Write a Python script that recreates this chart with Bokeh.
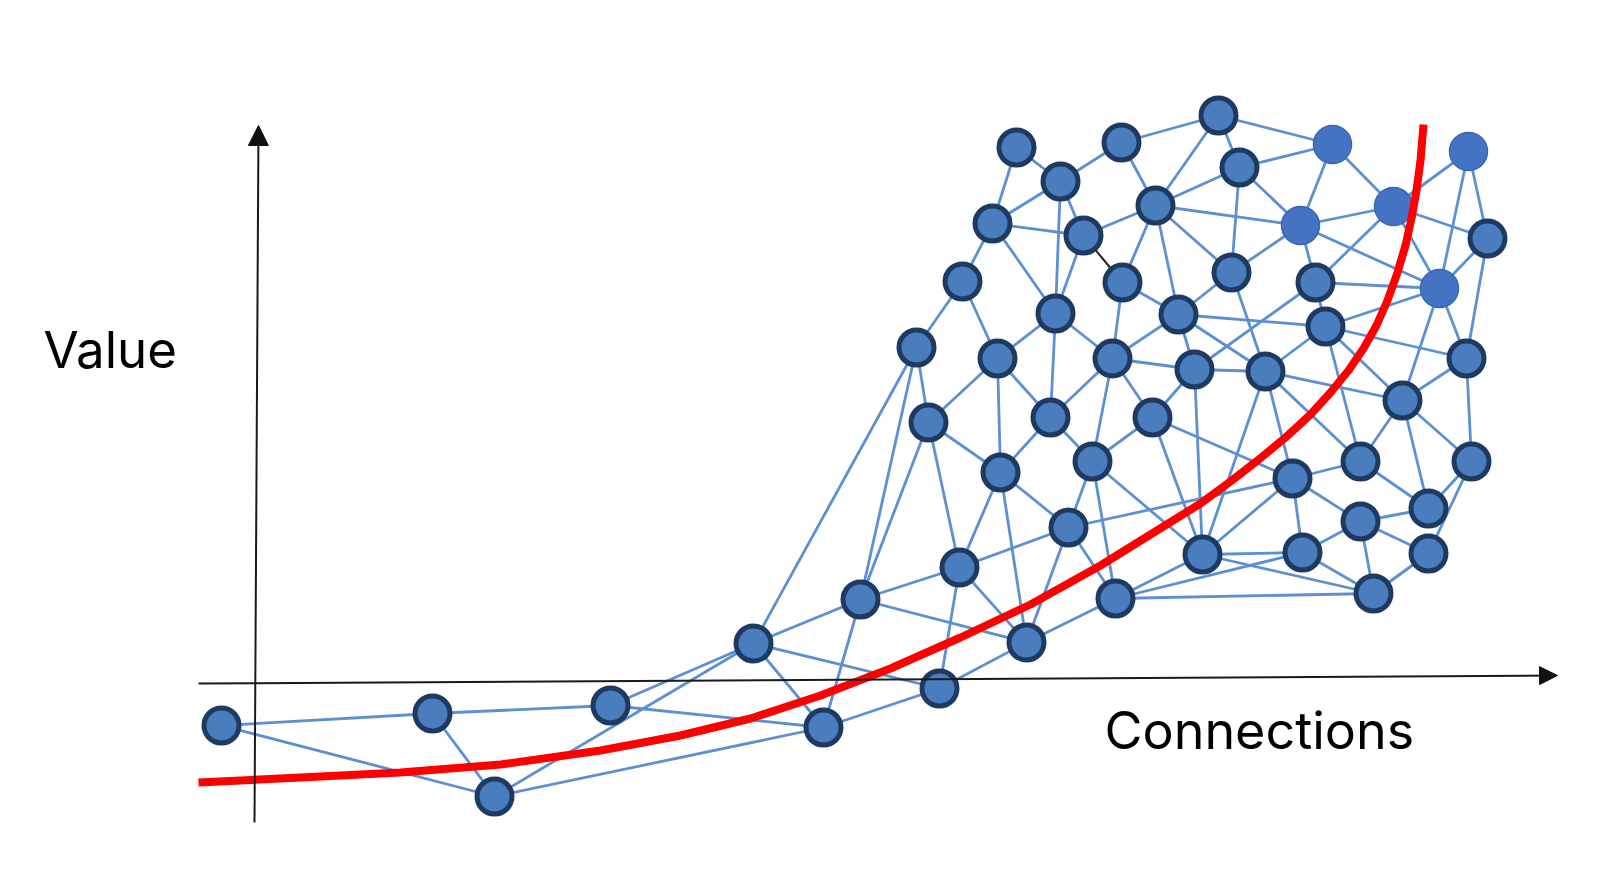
from bokeh.plotting import figure
from bokeh.models import Range1d, Arrow, NormalHead
from bokeh.core.properties import value
from bokeh.embed import file_html
from bokeh.resources import INLINE

# ---- data (diagram coordinates, y grows downward) ----
node_x = [1016, 1121, 1218, 1332, 1468, 1060, 1239, 1155, 992, 1083,
          1300, 1393, 1487, 962, 1122, 1231, 1315, 1439, 1055, 1178,
          1325, 916, 997, 1112, 1194, 1265, 1466, 928, 1050, 1152,
          1402, 1000, 1092, 1360, 1292, 1471, 1068, 1360, 1428, 959,
          1202, 1302, 1428, 860, 1115, 1373, 753, 1026, 939, 610,
          432, 221, 823, 494]
node_y = [147, 142, 115, 144, 151, 181, 167, 205, 223, 235,
          225, 206, 238, 281, 282, 272, 282, 288, 313, 314,
          326, 347, 358, 358, 369, 371, 358, 422, 417, 417,
          400, 472, 461, 461, 478, 461, 527, 521, 508, 567,
          554, 552, 553, 599, 598, 593, 643, 642, 688, 705,
          713, 725, 727, 796]
light_nodes = [3, 4, 10, 11, 17]

edges_a = [0, 0, 5, 5, 5, 5, 1, 1, 2, 2, 2, 6, 6, 6, 6, 3, 3,
           4, 4, 4, 8, 8, 8, 9, 9,
           7, 7, 7, 7, 10, 10, 10, 15, 15, 15, 14, 14, 13, 13,
           18, 18, 18, 19, 19, 19, 19, 16, 16, 16, 16,
           20, 20, 20, 20, 20, 11, 11, 12, 12, 17, 17,
           21, 21, 21, 22, 22, 22, 23, 23, 23, 23, 24, 24, 24,
           25, 25, 25, 25, 26, 26, 27, 27, 27, 28, 28, 29, 29, 29,
           31, 31, 31, 32, 32, 32, 36, 36, 36, 36, 39, 39, 39,
           43, 43, 43, 44, 44, 44, 44, 40, 40, 40, 34, 34, 34,
           33, 33, 30, 30, 35, 35, 37, 37, 37, 37, 41, 42,
           46, 46, 46, 46, 47, 48, 49, 49, 50, 50, 51, 53]
edges_b = [5, 8, 1, 8, 9, 18, 2, 7, 3, 6, 7, 3, 7, 10, 15, 10, 11,
           11, 12, 17, 9, 13, 18, 7, 18,
           10, 14, 19, 15, 11, 17, 16, 10, 19, 25, 19, 23, 21, 22,
           22, 23, 28, 23, 24, 25, 20, 24, 17, 20, 11,
           17, 25, 26, 30, 33, 12, 17, 17, 26, 30, 26,
           27, 46, 43, 27, 31, 28, 28, 32, 29, 24, 25, 29, 40,
           40, 34, 33, 30, 30, 35, 31, 39, 43, 31, 32, 32, 40, 34,
           36, 39, 47, 36, 44, 40, 39, 47, 44, 34, 47, 48, 43,
           47, 46, 52, 47, 40, 41, 45, 41, 45, 34, 41, 33, 37,
           30, 38, 35, 38, 38, 42, 38, 41, 42, 45, 45, 45,
           49, 53, 52, 48, 48, 52, 50, 52, 51, 53, 53, 52]
dark_edge = (9, 14)

curve_x = [198, 300, 400, 500, 600, 680, 750, 820, 890, 960, 1030, 1100,
           1150, 1200, 1230, 1257, 1285, 1310, 1330, 1348, 1363, 1376,
           1387, 1397, 1405, 1411, 1416, 1420, 1423]
curve_y = [782, 777, 772, 764, 750, 735, 718, 695, 668, 637, 604, 565,
           534, 503, 481, 460, 437, 414, 392, 370, 348, 325,
           300, 272, 245, 218, 190, 160, 124]

x_axis_label = "Connections"
y_axis_label = "Value"

# ---- figure ----
p = figure(width=1588, height=872, x_range=Range1d(0, 1588), y_range=Range1d(872, 0),
           output_backend="svg", toolbar_location=None, min_border=0,
           x_axis_location=None, y_axis_location=None)
p.grid.visible = False
p.outline_line_color = None
p.background_fill_color = "white"

# axes with arrow heads
p.add_layout(Arrow(end=NormalHead(size=18, fill_color="#111111", line_color="#111111"),
                   x_start=198, y_start=683, x_end=1557, y_end=675,
                   line_color="#1a1a1a", line_width=2))
p.add_layout(Arrow(end=NormalHead(size=20, fill_color="#111111", line_color="#111111"),
                   x_start=254, y_start=822, x_end=258, y_end=125,
                   line_color="#1a1a1a", line_width=2))

# edges
x0, y0, x1, y1 = [], [], [], []
for a, b in zip(edges_a, edges_b):
    x0.append(node_x[a]); y0.append(node_y[a])
    x1.append(node_x[b]); y1.append(node_y[b])
p.segment(x0=x0, y0=y0, x1=x1, y1=y1, line_color="#5d8fd3", line_width=2.8)
a, b = dark_edge
p.segment(x0=[node_x[a]], y0=[node_y[a]], x1=[node_x[b]], y1=[node_y[b]],
          line_color="#222222", line_width=2)

# nodes
dark_idx = [i for i in range(len(node_x)) if i not in light_nodes]
p.scatter(x=[node_x[i] for i in dark_idx], y=[node_y[i] for i in dark_idx],
          size=35, fill_color="#4a7dbd", line_color="#1e3a60", line_width=5)
p.scatter(x=[node_x[i] for i in light_nodes], y=[node_y[i] for i in light_nodes],
          size=38, fill_color="#4573c4", line_color="#3a66b0", line_width=1.5)

# red curve
p.line(curve_x, curve_y, line_color="#ff0000", line_width=8, line_cap="butt", line_join="round")

# labels
p.text(x=[43], y=[349], text=[y_axis_label], text_font=value("Inter"),
       text_font_size="51px", text_color="#000000", text_baseline="alphabetic", text_align="left")
p.text(x=[1104], y=[730], text=[x_axis_label], text_font=value("Inter"),
       text_font_size="52px", text_color="#000000", text_baseline="alphabetic", text_align="left")

open("out.html", "w").write(file_html(p, INLINE))
